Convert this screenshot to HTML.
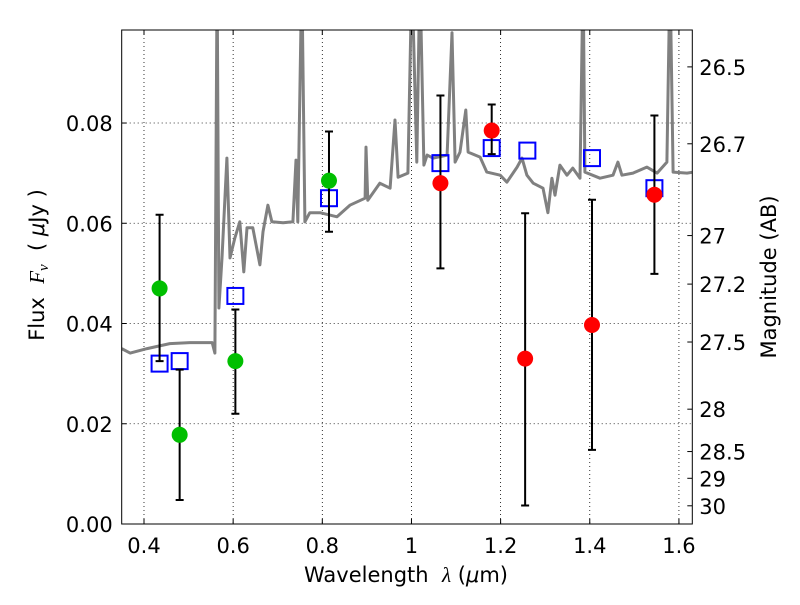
<!DOCTYPE html>
<html><head><meta charset="utf-8"><style>
body{margin:0;background:#fff}
svg text{font-family:"DejaVu Sans","Liberation Sans",sans-serif;fill:#000}
</style></head><body>
<svg id="chart" width="800" height="600" xmlns="http://www.w3.org/2000/svg">
<rect width="800" height="600" fill="#fff"/>
<g id="grid"></g>
<g id="plot"></g>
<g id="axes"></g>
<text transform="translate(44,265) rotate(-90)" text-anchor="middle" font-size="21">Flux&#160;&#160;<tspan font-style="italic" font-family="Liberation Serif, serif">F</tspan><tspan font-style="italic" font-size="15" dy="4" font-family="Liberation Serif, serif">ν</tspan><tspan dy="-4">&#160;&#160;(&#160;</tspan><tspan font-style="italic">μ</tspan>Jy&#160;)</text>
<text transform="translate(776,277) rotate(-90)" text-anchor="middle" font-size="21">Magnitude (AB)</text>
<text x="406" y="582" text-anchor="middle" font-size="21">Wavelength&#160;&#160;<tspan font-style="italic" font-family="Liberation Serif, serif">λ</tspan>&#160;(<tspan font-style="italic">μ</tspan>m)</text>
</svg>
<script>
const xTicks=[0.4,0.6,0.8,1.0,1.2,1.4,1.6];
const xTickLabels=["0.4","0.6","0.8","1","1.2","1.4","1.6"];
const yTicks=[0,0.02,0.04,0.06,0.08];
const yTickLabels=["0.00","0.02","0.04","0.06","0.08"];
const magTicks=[26.5,26.7,27,27.2,27.5,28,28.5,29,30];
const magTickLabels=["26.5","26.7","27","27.2","27.5","28","28.5","29","30"];
const specWave=[0.35,0.369,0.407,0.458,0.503,0.553,0.559,0.564,0.568,0.575,0.586,0.593,0.604,0.615,0.624,0.631,0.644,0.660,0.667,0.678,0.687,0.712,0.734,0.741,0.745,0.754,0.761,0.772,0.795,0.833,0.862,0.896,0.898,0.902,0.929,0.952,0.963,0.970,0.992,1.001,1.012,1.019,1.028,1.035,1.048,1.080,1.091,1.098,1.109,1.122,1.127,1.154,1.169,1.199,1.214,1.237,1.248,1.259,1.273,1.295,1.306,1.315,1.322,1.333,1.349,1.362,1.378,1.385,1.389,1.423,1.452,1.463,1.472,1.497,1.528,1.551,1.573,1.580,1.587,1.618,1.632];
const specFlux=[0.0350,0.0341,0.0350,0.0360,0.0362,0.0362,0.0341,0.11,0.0431,0.0531,0.0730,0.0531,0.0571,0.0603,0.0503,0.0591,0.0591,0.0517,0.0583,0.0636,0.0603,0.0601,0.0603,0.0726,0.0603,0.11,0.0603,0.0621,0.0621,0.0613,0.0636,0.0650,0.0752,0.0646,0.0680,0.0670,0.0806,0.0692,0.0700,0.11,0.0722,0.11,0.0716,0.0736,0.0730,0.0736,0.0980,0.0722,0.0742,0.0826,0.0742,0.0732,0.0702,0.0696,0.0682,0.0712,0.0730,0.0696,0.0680,0.0670,0.0621,0.0690,0.0656,0.0716,0.0696,0.0710,0.0690,0.11,0.0702,0.0690,0.0696,0.0722,0.0696,0.0700,0.0712,0.0700,0.0722,0.11,0.0702,0.0700,0.0702];
const greenWave=[0.435,0.48,0.605,0.815];
const greenFlux=[0.047,0.0178,0.0325,0.0685];
const greenLo=[0.0325,0.0048,0.022,0.0583];
const greenHi=[0.0617,0.0308,0.0428,0.0783];
const redWave=[1.065,1.18,1.255,1.405,1.545];
const redFlux=[0.068,0.0785,0.033,0.0397,0.0657];
const redLo=[0.051,0.0738,0.0037,0.0148,0.0499];
const redHi=[0.0855,0.0837,0.062,0.0647,0.0815];
const modelWave=[0.435,0.48,0.605,0.815,1.065,1.18,1.26,1.405,1.545];
const modelFlux=[0.032,0.0325,0.0455,0.065,0.072,0.075,0.0745,0.073,0.067];

const L=121.7,R=692.3,T=30,B=524,X0=0.35,X1=1.63,Y0=0,Y1=0.09856;
const xs=v=>L+(v-X0)/(X1-X0)*(R-L);
const ys=v=>B-(v-Y0)/(Y1-Y0)*(B-T);
const magToY=m=>ys(Math.pow(10,(23.9-m)/2.5));
const NS="http://www.w3.org/2000/svg";
function mk(tag,attrs,parent){const e=document.createElementNS(NS,tag);for(const k in attrs)e.setAttribute(k,attrs[k]);parent.appendChild(e);return e;}
const grid=document.getElementById('grid'),plot=document.getElementById('plot'),axes=document.getElementById('axes');

xTicks.forEach((t,i)=>{const x=xs(t);
 let g=mk('line',{x1:x,x2:x,y1:T,y2:B,stroke:'#000','stroke-width':0.8,'stroke-dasharray':'1,3'},grid);
 
 let a=mk('line',{x1:x,x2:x,y1:B,y2:B-5,stroke:'#000','stroke-width':1},axes);
 
 let b=mk('line',{x1:x,x2:x,y1:T,y2:T+5,stroke:'#000','stroke-width':1},axes);
 
 let l=mk('text',{x:x,y:B+29,'text-anchor':'middle','font-size':21},axes);l.textContent=xTickLabels[i];
 
});
yTicks.forEach((t,i)=>{const y=ys(t);
 let g=mk('line',{x1:L,x2:R,y1:y,y2:y,stroke:'#000','stroke-width':0.8,'stroke-dasharray':'1,3'},grid);
 
 let a=mk('line',{x1:L,x2:L+5,y1:y,y2:y,stroke:'#000','stroke-width':1},axes);
 
 let l=mk('text',{x:L-9,y:y+8,'text-anchor':'end','font-size':21},axes);l.textContent=yTickLabels[i];
 
});
magTicks.forEach((m,i)=>{const y=magToY(m);
 let a=mk('line',{x1:R,x2:R-5,y1:y,y2:y,stroke:'#000','stroke-width':1},axes);
 
 let l=mk('text',{x:R+7,y:y+8,'text-anchor':'start','font-size':21},axes);l.textContent=magTickLabels[i];
 
});
let frame=mk('rect',{x:L,y:T,width:R-L,height:B-T,fill:'none',stroke:'#000','stroke-width':1},axes);


mk('clipPath',{id:'clip'},plot).appendChild(document.createElementNS(NS,'rect'));
const cr=document.querySelector('#clip rect');cr.setAttribute('x',L);cr.setAttribute('y',T);cr.setAttribute('width',R-L);cr.setAttribute('height',B-T);
let pts=specWave.map((w,i)=>xs(w).toFixed(1)+','+ys(specFlux[i]).toFixed(1)).join(' ');
let sp=mk('polyline',{points:pts,fill:'none',stroke:'#808080','stroke-width':3,'stroke-linejoin':'round','clip-path':'url(#clip)'},plot);


modelWave.forEach((w,i)=>{const x=xs(w),y=ys(modelFlux[i]);
 let s=mk('rect',{x:x-8,y:y-8,width:16,height:16,fill:'none',stroke:'#0000ff','stroke-width':2},plot);
 
});
function errbar(w,lo,hi){const x=xs(w);
 let e=mk('path',{d:`M${x},${ys(lo)}V${ys(hi)}M${x-4},${ys(lo)}H${x+4}M${x-4},${ys(hi)}H${x+4}`,stroke:'#000','stroke-width':2,fill:'none'},plot);
 }
greenWave.forEach((w,i)=>errbar(w,greenLo[i],greenHi[i]));
redWave.forEach((w,i)=>errbar(w,redLo[i],redHi[i]));
greenWave.forEach((w,i)=>{let c=mk('circle',{cx:xs(w),cy:ys(greenFlux[i]),r:8,fill:'#00bf00'},plot);
 });
redWave.forEach((w,i)=>{let c=mk('circle',{cx:xs(w),cy:ys(redFlux[i]),r:8,fill:'#ff0000'},plot);
 });
</script>
</body></html>
